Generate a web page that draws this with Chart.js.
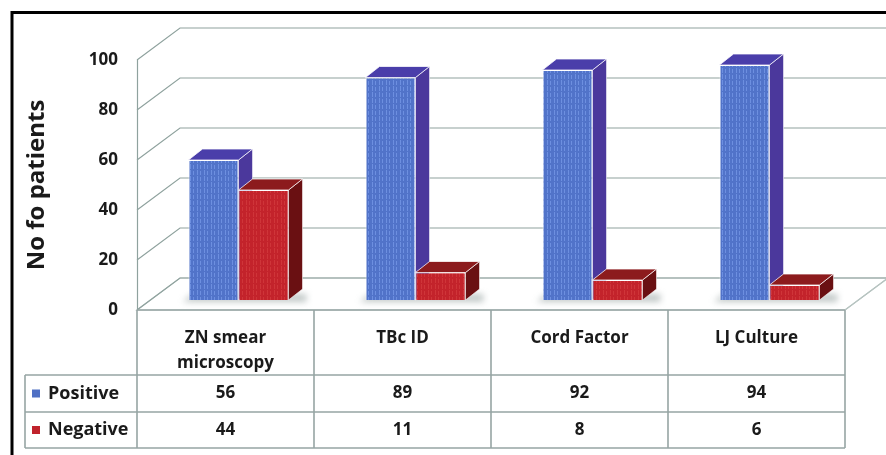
<!DOCTYPE html>
<html>
<head>
<meta charset="utf-8">
<script src="https://cdn.jsdelivr.net/npm/chart.js@4.4.1/dist/chart.umd.min.js"></script>
<style>
  html, body { margin: 0; padding: 0; background: #ffffff; }
  canvas { display: block; }
</style>
</head>
<body>
<canvas id="chart" width="886" height="455"></canvas>
<script>
// ---- data ----
const categories = [['ZN smear', 'microscopy'], ['TBc ID'], ['Cord Factor'], ['LJ Culture']];
const seriesNames = ['Positive', 'Negative'];
const positive = [56, 89, 92, 94];
const negative = [44, 11, 8, 6];
const yTicks = [0, 20, 40, 60, 80, 100];

// ---- look ----
const FONT = '"Open Sans", "Liberation Sans", sans-serif';
const TEXT = '#1a1a1a';
const GRID = '#8fa29e';
const TABLE_LINE = '#97a5a4';
const WALL = { dx: 43, dy: -32 };       // back wall offset from the front plane
const BAR_SHIFT = { dx: 13, dy: -10 };  // bars stand a little behind the front plane
const BAR_DEPTH = { dx: 14, dy: -11 };  // thickness of each bar
const COLORS = {
  Positive: { front: '#5173c9', stripe: '#6d8fe0', top: '#4a3eaa', side: '#4b389c', key: '#4f70c4' },
  Negative: { front: '#c3232b', stripe: '#cf3539', top: '#8c1b1d', side: '#6a1012', key: '#c0232c' }
};

function stripePattern(base, light) {
  const c = document.createElement('canvas');
  c.width = 7; c.height = 6;
  const g = c.getContext('2d');
  g.fillStyle = base; g.fillRect(0, 0, 7, 6);
  g.fillStyle = light;
  g.fillRect(2, 0, 1, 5);
  g.fillRect(5, 1, 1, 4);
  return g.createPattern(c, 'repeat');
}

function poly(ctx, pts, fill, stroke) {
  ctx.beginPath();
  ctx.moveTo(pts[0][0], pts[0][1]);
  for (let i = 1; i < pts.length; i++) ctx.lineTo(pts[i][0], pts[i][1]);
  ctx.closePath();
  if (fill) { ctx.fillStyle = fill; ctx.fill(); }
  if (stroke) { ctx.strokeStyle = stroke; ctx.stroke(); }
}

// walls, floor, bar depth faces, data table and frame
const scene3d = {
  id: 'scene3d',
  beforeDatasetsDraw(chart) {
    const { ctx, chartArea: a, scales: { x, y } } = chart;
    const W = chart.width;
    const y0 = y.getPixelForValue(0);
    ctx.save();
    ctx.lineWidth = 1.2;
    // floor
    poly(ctx, [[a.left, y0], [a.right, y0], [a.right + WALL.dx, y0 + WALL.dy], [a.left + WALL.dx, y0 + WALL.dy]],
      '#ffffff', '#b7c4c1');
    // side wall and back wall grid lines
    ctx.strokeStyle = GRID;
    yTicks.forEach(v => {
      const py = y.getPixelForValue(v);
      ctx.beginPath();
      ctx.moveTo(a.left, py);
      ctx.lineTo(a.left + WALL.dx, py + WALL.dy);
      ctx.lineTo(W, py + WALL.dy);
      ctx.stroke();
    });
    ctx.beginPath();
    ctx.moveTo(a.left + 0.5, y.getPixelForValue(yTicks[yTicks.length - 1]));
    ctx.lineTo(a.left + 0.5, y0);
    ctx.stroke();
    ctx.restore();

    // bars are drawn slightly behind the front plane
    ctx.save();
    ctx.translate(BAR_SHIFT.dx, BAR_SHIFT.dy);
    // soft floor shadow under each pair of bars
    const m0 = chart.getDatasetMeta(0), m1 = chart.getDatasetMeta(1);
    ctx.save();
    ctx.filter = 'blur(3px)';
    ctx.fillStyle = 'rgba(120,135,132,0.45)';
    m0.data.forEach((b, i) => {
      const p0 = b.getProps(['x', 'base', 'width'], true);
      const p1 = m1.data[i].getProps(['x', 'width'], true);
      const l = p0.x - p0.width / 2 - 6, r = p1.x + p1.width / 2 + BAR_DEPTH.dx + 4;
      poly(ctx, [[l, p0.base + 2], [r, p0.base + 2], [r, p0.base - 6], [l + 10, p0.base - 6]], ctx.fillStyle);
    });
    ctx.restore();
  },
  afterDatasetsDraw(chart) {
    const { ctx } = chart;
    const metas = [chart.getDatasetMeta(0), chart.getDatasetMeta(1)];
    ctx.lineWidth = 1;
    metas[0].data.forEach((_, i) => {
      metas.forEach((meta, k) => {
        const bar = meta.data[i];
        if (k > 0) bar.draw(ctx);   // keeps the neighbour's side face behind this front face
        const { x, y, base, width } = bar.getProps(['x', 'y', 'base', 'width'], true);
        const c = COLORS[seriesNames[k]];
        const l = x - width / 2, r = x + width / 2;
        const dx = BAR_DEPTH.dx, dy = BAR_DEPTH.dy;
        poly(ctx, [[r, y], [r + dx, y + dy], [r + dx, base + dy], [r, base]], c.side, 'rgba(255,255,255,0.55)');
        poly(ctx, [[l, y], [r, y], [r + dx, y + dy], [l + dx, y + dy]], c.top, 'rgba(255,255,255,0.75)');
      });
    });
    ctx.restore();
  },
  afterDraw(chart) {
    const { ctx, chartArea: a, scales: { x, y } } = chart;
    const y0 = y.getPixelForValue(0);
    const step = x.getPixelForValue(1) - x.getPixelForValue(0);
    const rows = [y0, 375, 412, 448];
    const keyLeft = 25;
    ctx.save();
    ctx.strokeStyle = TABLE_LINE;
    ctx.lineWidth = 1.6;
    ctx.beginPath();
    ctx.moveTo(a.left, rows[0]); ctx.lineTo(a.right, rows[0]);
    for (let r = 1; r < rows.length; r++) { ctx.moveTo(keyLeft, rows[r]); ctx.lineTo(a.right, rows[r]); }
    ctx.moveTo(keyLeft, rows[1]); ctx.lineTo(keyLeft, rows[3]);
    for (let i = 0; i <= categories.length; i++) {
      const px = x.getPixelForValue(i) - step / 2;
      ctx.moveTo(px, rows[0]); ctx.lineTo(px, rows[3]);
    }
    ctx.stroke();
    // floor's right edge
    ctx.strokeStyle = '#b7c4c1';
    ctx.lineWidth = 1.2;
    ctx.beginPath();
    ctx.moveTo(a.right, y0); ctx.lineTo(a.right + WALL.dx, y0 + WALL.dy);
    ctx.stroke();

    ctx.fillStyle = TEXT;
    ctx.font = 'bold 17px ' + FONT;
    ctx.textAlign = 'center';
    ctx.textBaseline = 'middle';
    categories.forEach((lines, i) => {
      const cx = x.getPixelForValue(i);
      lines.forEach((t, j) => ctx.fillText(t, cx, 338 + j * 25));
      ctx.fillText(String(positive[i]), cx, (rows[1] + rows[2]) / 2);
      ctx.fillText(String(negative[i]), cx, (rows[2] + rows[3]) / 2);
    });
    ctx.textAlign = 'left';
    ctx.font = 'bold 18px ' + FONT;
    seriesNames.forEach((name, k) => {
      const cy = (rows[k + 1] + rows[k + 2]) / 2;
      ctx.fillStyle = COLORS[name].key;
      ctx.fillRect(32, cy - 4, 8, 8);
      ctx.fillStyle = TEXT;
      ctx.fillText(name, 48, cy);
    });

    // frame
    ctx.strokeStyle = '#000000';
    ctx.lineWidth = 3;
    ctx.beginPath();
    ctx.moveTo(12, chart.height);
    ctx.lineTo(12, 12.5);
    ctx.lineTo(chart.width, 12.5);
    ctx.stroke();
    ctx.restore();
  }
};

const ctx = document.getElementById('chart').getContext('2d');
new Chart(ctx, {
  type: 'bar',
  data: {
    labels: categories,
    datasets: [
      {
        label: seriesNames[0], data: positive,
        backgroundColor: stripePattern(COLORS.Positive.front, COLORS.Positive.stripe),
        borderColor: 'rgba(255,255,255,0.7)', borderWidth: 1, clip: false
      },
      {
        label: seriesNames[1], data: negative,
        backgroundColor: stripePattern(COLORS.Negative.front, COLORS.Negative.stripe),
        borderColor: 'rgba(255,255,255,0.7)', borderWidth: 1, clip: false
      }
    ]
  },
  options: {
    responsive: false,
    animation: false,
    events: [],
    layout: { padding: { top: 60, bottom: 145, right: 41, left: 0 } },
    datasets: { bar: { categoryPercentage: 0.565, barPercentage: 1 } },
    plugins: { legend: { display: false }, tooltip: { enabled: false } },
    scales: {
      x: { display: false },
      y: {
        min: yTicks[0], max: yTicks[yTicks.length - 1],
        afterFit(scale) { scale.width = 137; },
        afterBuildTicks(scale) { scale.ticks = yTicks.map(v => ({ value: v })); },
        border: { display: false },
        grid: { display: false, drawTicks: false },
        ticks: { padding: 19, color: TEXT, font: { family: FONT, size: 17, weight: 'bold' } },
        title: {
          display: true, text: 'No fo patients', color: TEXT,
          font: { family: FONT, size: 24, weight: 'bold' }, padding: { top: 23 }
        }
      }
    }
  },
  plugins: [scene3d]
});
</script>
</body>
</html>
